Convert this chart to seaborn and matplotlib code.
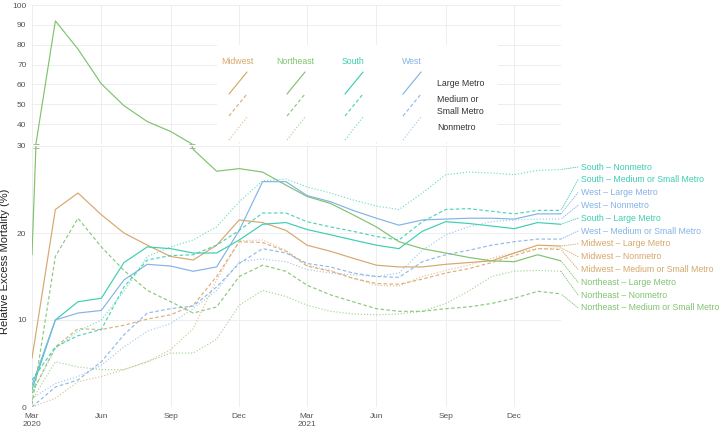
import numpy as np
import pandas as pd
import matplotlib
matplotlib.use("Agg")
import matplotlib.pyplot as plt
import matplotlib.dates as mdates
from matplotlib.lines import Line2D
from matplotlib.patches import Rectangle
from matplotlib.path import Path
import seaborn as sns

# monthly values, Mar 2020 .. Feb 2022
months = pd.date_range("2020-03-01", periods=24, freq="MS")

midwest_large = [5.6, 22.7, 24.6, 22.1, 20.0, 18.6, 17.3, 16.9, 18.6, 21.5, 21.2, 20.3,
                 18.6, 17.9, 17.1, 16.3, 16.1, 16.1, 16.4, 16.6, 16.8, 17.7, 18.6, 18.5]
midwest_medium = [1.6, 6.9, 9.0, 8.9, 9.4, 10.1, 10.6, 11.7, 15.0, 19.0, 18.9, 17.9,
                  16.2, 15.6, 14.8, 14.2, 14.1, 14.7, 15.4, 15.9, 16.6, 17.4, 18.2, 18.1]
midwest_non = [0.0, 1.0, 2.9, 3.5, 4.3, 5.2, 6.6, 9.0, 14.6, 19.1, 19.2, 18.0,
               16.3, 15.7, 14.8, 14.0, 13.9, 15.0, 15.7, 16.3, 17.1, 17.7, 18.2, 18.3]
northeast_large = [17.5, 92.0, 77.8, 60.3, 49.3, 41.3, 36.3, 29.6, 27.1, 27.4, 27.0, 25.5,
                   24.2, 23.4, 22.1, 20.7, 19.0, 18.2, 17.7, 17.2, 16.8, 16.7, 17.5, 16.8]
northeast_medium = [0.3, 17.3, 21.7, 18.4, 15.7, 13.4, 12.1, 10.8, 11.5, 15.0, 16.3, 15.6,
                    14.0, 12.9, 12.1, 11.3, 11.0, 11.0, 11.3, 11.5, 11.9, 12.5, 13.3, 13.0]
northeast_non = [0.8, 5.2, 4.6, 4.3, 4.3, 5.2, 6.2, 6.2, 7.8, 11.7, 13.4, 12.7,
                 11.7, 11.0, 10.7, 10.6, 10.7, 11.0, 11.9, 13.3, 15.0, 15.6, 15.7, 15.6]
south_large = [2.0, 10.0, 12.1, 12.5, 16.6, 18.4, 18.2, 17.7, 17.7, 19.2, 21.0, 21.2,
               20.4, 19.8, 19.2, 18.6, 18.2, 20.2, 21.3, 21.1, 20.8, 20.5, 21.2, 21.0]
south_medium = [3.1, 6.9, 8.2, 8.9, 13.8, 16.9, 17.4, 17.5, 18.6, 20.3, 22.3, 22.3,
                21.3, 20.7, 20.2, 19.6, 19.2, 21.3, 22.7, 22.8, 22.5, 22.2, 22.6, 22.6]
south_non = [1.6, 6.7, 8.7, 10.0, 13.3, 17.3, 18.4, 19.2, 20.7, 23.6, 26.0, 26.2,
             25.3, 24.6, 23.8, 23.1, 22.7, 24.6, 26.7, 27.0, 26.9, 26.7, 27.2, 27.3]
west_large = [2.5, 10.0, 10.8, 11.1, 14.6, 16.4, 16.2, 15.6, 16.1, 20.3, 25.9, 25.9,
              24.3, 23.6, 22.6, 21.7, 20.9, 21.5, 21.6, 21.7, 21.7, 21.6, 22.2, 22.2]
west_medium = [0.0, 2.3, 3.1, 5.2, 8.3, 10.8, 11.3, 11.6, 13.8, 16.5, 18.2, 17.7,
               16.5, 16.1, 15.4, 15.0, 14.9, 16.7, 17.5, 18.0, 18.6, 19.0, 19.3, 19.3]
west_non = [1.0, 2.7, 3.5, 4.8, 6.9, 8.7, 9.6, 11.3, 13.4, 16.7, 17.0, 16.7,
            15.8, 15.4, 15.2, 15.0, 15.4, 18.0, 19.8, 20.7, 21.3, 21.5, 21.6, 21.6]

regions = ["Midwest", "Northeast", "South", "West"]
metros = ["Large Metro", "Medium or Small Metro", "Nonmetro"]
series = {
    ("Midwest", "Large Metro"): midwest_large,
    ("Midwest", "Medium or Small Metro"): midwest_medium,
    ("Midwest", "Nonmetro"): midwest_non,
    ("Northeast", "Large Metro"): northeast_large,
    ("Northeast", "Medium or Small Metro"): northeast_medium,
    ("Northeast", "Nonmetro"): northeast_non,
    ("South", "Large Metro"): south_large,
    ("South", "Medium or Small Metro"): south_medium,
    ("South", "Nonmetro"): south_non,
    ("West", "Large Metro"): west_large,
    ("West", "Medium or Small Metro"): west_medium,
    ("West", "Nonmetro"): west_non,
}

colors = {"Midwest": "#D6A86C", "Northeast": "#80C26F", "South": "#3CCFB1", "West": "#84B3E6"}
dashes = {"Large Metro": "", "Medium or Small Metro": (3, 2), "Nonmetro": (1, 1.6)}
alphas = {"Large Metro": 1.0, "Medium or Small Metro": 0.9, "Nonmetro": 0.7}

rows = []
for (reg, met), vals in series.items():
    for m, v in zip(months, vals):
        rows.append({"month": m, "value": v, "region": reg, "metro": met})
df = pd.DataFrame(rows)

sns.set_theme(style="white")
plt.rcParams["font.family"] = ["Liberation Sans", "DejaVu Sans"]

W, H = 720, 428
fig = plt.figure(figsize=(7.2, 4.28), dpi=100)


def fxy(x, y):
    return x / W, 1 - y / H


ax_lo = fig.add_axes([32 / W, 21 / H, 529 / W, 261 / H])
ax_hi = fig.add_axes([32 / W, (H - 144) / H, 529 / W, 139 / H])

for ax in (ax_lo, ax_hi):
    for met in metros:
        sns.lineplot(data=df[df["metro"] == met], x="month", y="value", hue="region",
                     hue_order=regions, palette=colors, linewidth=0.85,
                     alpha=alphas[met], legend=False, errorbar=None, ax=ax)
        if dashes[met]:
            for ln in ax.lines[-len(regions):]:
                ln.set_dashes(dashes[met])
    ax.set_xlim(months[0], months[-1])
    ax.xaxis.set_major_locator(mdates.MonthLocator(bymonth=[3, 6, 9, 12]))
    ax.xaxis.set_minor_locator(mdates.MonthLocator())
    ax.grid(True, which="major", color="#EBEBEB", linewidth=0.6)
    ax.set_axisbelow(True)
    for s in ax.spines.values():
        s.set_visible(False)
    ax.set_xlabel("")
    ax.set_ylabel("")
    ax.tick_params(axis="y", length=2.5, width=0.5, color="#BBBBBB", pad=1.5,
                   labelsize=6, labelcolor="#555555")

ax_lo.set_ylim(0, 30)
ax_lo.set_yticks([0, 10, 20, 30])
ax_hi.set_ylim(30, 100)
ax_hi.set_yticks([40, 50, 60, 70, 80, 90, 100])


def month_fmt(x, pos):
    d = mdates.num2date(x)
    return d.strftime("%b\n%Y") if d.month == 3 else d.strftime("%b")


ax_lo.xaxis.set_major_formatter(plt.FuncFormatter(month_fmt))
ax_lo.tick_params(axis="x", which="both", length=2.5, width=0.5, color="#BBBBBB",
                  pad=1.5, labelsize=6, labelcolor="#555555")
ax_hi.tick_params(axis="x", which="both", length=0, labelbottom=False)

# break marks where a line crosses the panel boundary
brk = Path([(-1, 0.6), (1, 0.6), (-1, -0.6), (1, -0.6)],
           [Path.MOVETO, Path.LINETO, Path.MOVETO, Path.LINETO])
xnum = mdates.date2num(months)
for (reg, met), vals in series.items():
    for i in range(len(vals) - 1):
        v0, v1 = vals[i], vals[i + 1]
        if (v0 - 30) * (v1 - 30) < 0:
            xc = xnum[i] + (30 - v0) / (v1 - v0) * (xnum[i + 1] - xnum[i])
            ax_lo.plot([xc], [30], marker=brk, markersize=4, mew=0.7,
                       color="#9DBB94", clip_on=False, zorder=5)

ax_lo.set_ylabel("Relative Excess Mortality (%)", fontsize=8, color="#222222")
ax_lo.yaxis.set_label_coords(-22 / 529, 0.56)

# legend box
fig.add_artist(Rectangle(fxy(217, 142), 281 / W, 97 / H, transform=fig.transFigure,
                         facecolor="white", edgecolor="none", zorder=3))
col_x = [229, 287, 345, 403]
row_y = [(94, 72), (116, 94), (140, 117)]
for reg, cx in zip(regions, col_x):
    fig.text(*fxy(cx + 8.5, 61), reg, color=colors[reg], fontsize=6.3,
             ha="center", va="center", zorder=4)
    for met, (y0, y1) in zip(metros, row_y):
        x0, yy0 = fxy(cx, y0)
        x1, yy1 = fxy(cx + 18, y1)
        ln = Line2D([x0, x1], [yy0, yy1], transform=fig.transFigure, color=colors[reg],
                    linewidth=0.85, alpha=alphas[met], zorder=4)
        if dashes[met]:
            ln.set_dashes(dashes[met])
        fig.add_artist(ln)
for lab, ly in zip(["Large Metro", "Medium or\nSmall Metro", "Nonmetro"], [83, 105.5, 128]):
    fig.text(*fxy(437, ly), lab, fontsize=6.3, color="#333333", ha="left", va="center",
             linespacing=1.5, zorder=4)

# end labels, ordered by last value
ends = sorted(series.items(), key=lambda kv: -kv[1][-1])
for j, ((reg, met), vals) in enumerate(ends):
    py = 167 + 12.8 * j
    ax_lo.annotate("", xy=(months[-1], vals[-1]), xycoords="data",
                   xytext=fxy(578, py), textcoords="figure fraction",
                   arrowprops=dict(arrowstyle="-", color=colors[reg], lw=0.6, ls=":",
                                   shrinkA=0, shrinkB=0),
                   annotation_clip=False)
    fig.text(*fxy(581, py), f"{reg} – {met}", color=colors[reg], fontsize=6.3,
             ha="left", va="center")

fig.savefig("out.png", dpi=100)
